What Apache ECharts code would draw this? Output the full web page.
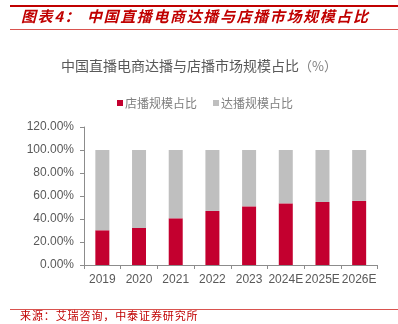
<!DOCTYPE html>
<html>
<head>
<meta charset="utf-8">
<script src="https://cdn.jsdelivr.net/npm/echarts@6/dist/echarts.min.js"></script>
<style>
  html, body { margin: 0; padding: 0; background: #fff; }
  #chart { width: 398px; height: 324px; }
</style>
</head>
<body>
<div id="chart"></div>
<script>
// Share of China's live-streaming e-commerce market: store-run vs. influencer-run
const years = ['2019', '2020', '2021', '2022', '2023', '2024E', '2025E', '2026E'];
const storeShare = [30.2, 32.2, 40.6, 47.0, 51.0, 53.6, 54.8, 55.7];
const influencerShare = [69.8, 67.8, 59.4, 53.0, 49.0, 46.4, 45.2, 44.3];
const seriesNames = ['店播规模占比', '达播规模占比'];
const yTicks = [0, 20, 40, 60, 80, 100, 120];

const headerText = '图表4：中国直播电商达播与店播市场规模占比';
const sourceText = '来源：艾瑞咨询，中泰证券研究所';
const chartTitle = '中国直播电商达播与店播市场规模占比';

const RED = '#c3002f';
const GRAY = '#bfbfbf';
const LABEL = '#595959';
const AXIS = '#8c8c8c';
const BRAND = '#c00000';

// Header characters are laid out on a fixed pitch
const headerX = [21, 37.6, 54.2, 64.5];
const headerChars = Array.from(headerText);
const headerGraphics = headerChars.map((ch, i) => ({
  type: 'text',
  left: i < 4 ? headerX[i] : 87 + (i - 4) * 16.62,
  top: 9,
  style: {
    text: ch,
    fill: BRAND,
    font: 'italic bold 15px "Noto Sans CJK SC", sans-serif'
  }
}));

const sourceGraphics = Array.from(sourceText).map((ch, i) => ({
  type: 'text',
  left: 20 + i * 11.9,
  top: 310,
  style: {
    text: ch,
    fill: BRAND,
    font: '11px "Noto Sans CJK SC", sans-serif'
  }
}));

const chart = echarts.init(document.getElementById('chart'), null, { renderer: 'canvas' });
chart.setOption({
  animation: false,
  backgroundColor: '#ffffff',
  title: {
    text: chartTitle + '{u|（%）}',
    left: 'center',
    top: 54,
    textStyle: {
      fontSize: 14,
      fontWeight: 'normal',
      color: LABEL,
      fontFamily: '"Noto Sans CJK SC", sans-serif',
      rich: {
        u: { fontSize: 13, color: '#7f7f7f', fontFamily: '"Noto Sans CJK SC", sans-serif' }
      }
    }
  },
  legend: {
    top: 92,
    left: 117,
    padding: [5, 0, 5, 0],
    itemWidth: 6,
    itemHeight: 6,
    itemGap: 16,
    icon: 'rect',
    data: seriesNames,
    textStyle: {
      fontSize: 12,
      color: '#7f7f7f',
      padding: [0, 0, 0, -3],
      fontFamily: '"Noto Sans CJK SC", sans-serif'
    }
  },
  grid: { left: 84, right: 20.5, top: 127, bottom: 59, containLabel: false },
  xAxis: {
    type: 'category',
    data: years,
    axisLine: { lineStyle: { color: AXIS, width: 1 } },
    axisTick: { show: true, alignWithLabel: false, length: 4, lineStyle: { color: AXIS } },
    axisLabel: { interval: 0, color: LABEL, fontSize: 12, margin: 9, fontFamily: 'Liberation Sans, Arial, sans-serif' }
  },
  yAxis: {
    type: 'value',
    min: yTicks[0],
    max: yTicks[yTicks.length - 1],
    interval: yTicks[1] - yTicks[0],
    axisLine: { show: true, lineStyle: { color: AXIS, width: 1 } },
    axisTick: { show: true, length: 4, lineStyle: { color: AXIS } },
    splitLine: { show: false },
    axisLabel: {
      color: LABEL,
      fontSize: 12,
      margin: 10,
      fontFamily: 'Liberation Sans, Arial, sans-serif',
      formatter: v => v.toFixed(2) + '%'
    }
  },
  series: [
    {
      name: seriesNames[0],
      type: 'bar',
      stack: 'share',
      barWidth: 14,
      itemStyle: { color: RED },
      data: storeShare
    },
    {
      name: seriesNames[1],
      type: 'bar',
      stack: 'share',
      barWidth: 14,
      itemStyle: { color: GRAY },
      data: influencerShare
    }
  ],
  graphic: [
    { type: 'rect', shape: { x: 10, y: 5, width: 388, height: 2 }, style: { fill: BRAND } },
    { type: 'rect', shape: { x: 10, y: 29, width: 388, height: 1 }, style: { fill: '#d9534f' } },
    { type: 'rect', shape: { x: 10, y: 309, width: 388, height: 1 }, style: { fill: '#d9534f' } }
  ].concat(headerGraphics, sourceGraphics)
});
</script>
</body>
</html>
